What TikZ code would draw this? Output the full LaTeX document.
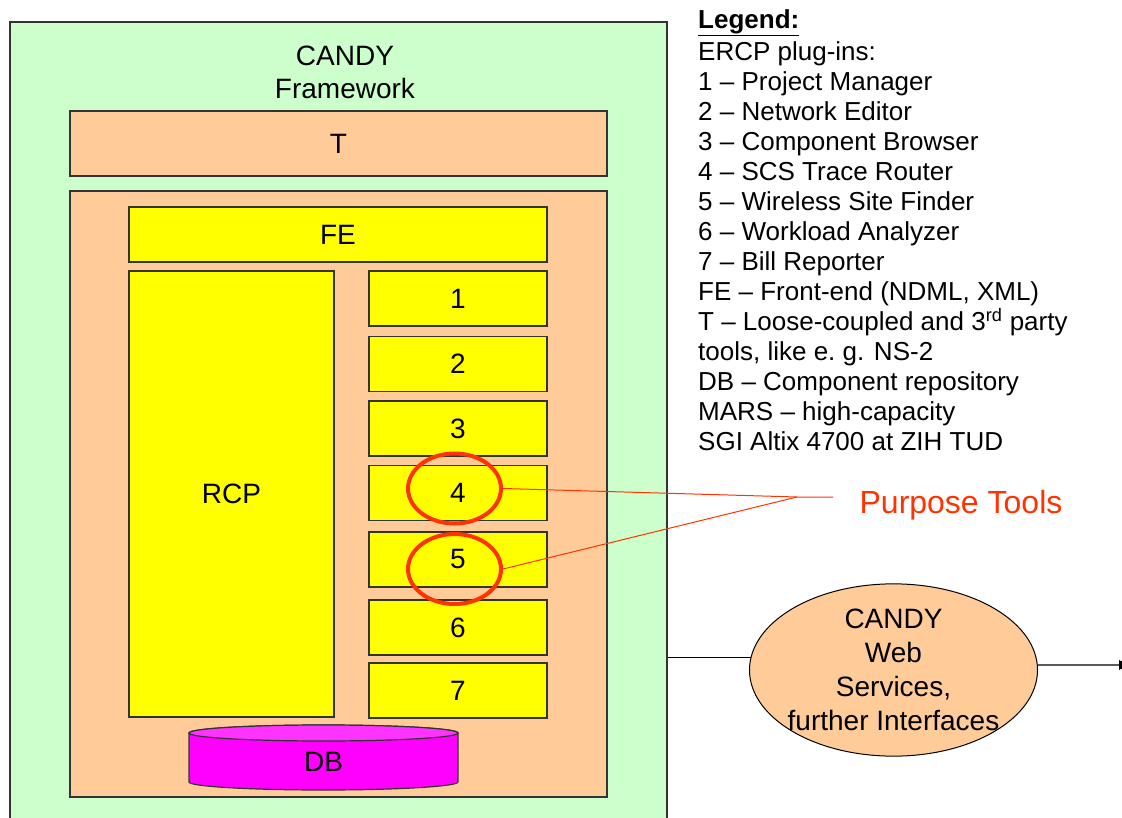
\documentclass[tikz,border=0pt]{standalone}
\usepackage{fontspec}
\setmainfont{Liberation Sans}
\usepackage{tikz}
\usetikzlibrary{shapes.geometric,arrows.meta}
\definecolor{framegreen}{HTML}{CCFFCC}
\definecolor{rcporange}{HTML}{FFCC99}
\definecolor{plugyellow}{HTML}{FFFF00}
\definecolor{dbbody}{HTML}{FF00FF}
\definecolor{dbtop}{HTML}{FF33FF}
\definecolor{markred}{HTML}{FF3300}

\begin{document}
\begin{tikzpicture}[x=1pt, y=-1pt, font=\fontsize{28}{33}\selectfont,
    block/.style={shape=rectangle, draw=black!80, line width=1.2pt, inner sep=0pt},
    plugin/.style={block, fill=plugyellow, minimum width=178pt, minimum height=55pt},
    ring/.style={shape=ellipse, draw=markred, line width=4pt, minimum width=93pt, minimum height=70pt},
    pointer/.style={draw=markred, line width=1pt}]
    \useasboundingbox (0,0) rectangle (1122,818);
    \node[block, fill=framegreen, minimum width=657pt, minimum height=820pt] at (338.5,432) (frame) {};
    \node[align=center] at (345,72) (title) {CANDY\\Framework};
    \node[block, fill=rcporange, minimum width=537pt, minimum height=65pt] at (338.5,143.5) (tools) {T};
    \node[block, fill=rcporange, minimum width=537pt, minimum height=606pt] at (338.5,494) (rcpbox) {};
    \node[block, fill=plugyellow, minimum width=418pt, minimum height=55pt] at (338,234.5) (fe) {FE};
    \node[block, fill=plugyellow, minimum width=205pt, minimum height=446pt] at (231.5,494) (rcp) {RCP};
    \foreach \n/\y in {1/298.5,2/364,3/428.5,4/493,5/559.5,6/627.5,7/690.5}
        \node[plugin] at (458,\y) (p\n) {\n};
    % repository drum
    \path[draw=black!80, line width=1.2pt, fill=dbbody] (189,733) -- (189,782)
        arc[start angle=180, end angle=360, x radius=134.5pt, y radius=8pt] -- (458,733)
        arc[start angle=0, end angle=180, x radius=134.5pt, y radius=8pt] -- cycle;
    \path[draw=black!80, line width=1.2pt, fill=dbtop] (323.5,733) ellipse[x radius=134.5pt, y radius=8pt];
    \node at (323.5,762) (db) {DB};
    \node[ring] at (454.5,488.5) (m4) {};
    \node[ring] at (454.5,569) (m5) {};
    \coordinate (hub) at (797,497);
    \coordinate (hubend) at (833,497);
    \path[pointer] (m4.east) -- (hub) -- (hubend);
    \path[pointer] (m5.east) -- (hub);
    \node[text=markred, font=\fontsize{32}{38}\selectfont] at (961,505) (purpose) {Purpose Tools};
    \node[shape=ellipse, draw=black, line width=1pt, fill=rcporange, align=center, inner xsep=-4pt, inner ysep=0pt,
        minimum width=287pt, minimum height=172pt, font=\fontsize{28}{34}\selectfont] at (893.5,670) (svc)
        {CANDY\\Web\\Services,\\further Interfaces};
    \coordinate (exit) at (1133,665);
    \path[draw, line width=1.2pt] (frame.east |- svc.175) -- (svc.175);
    \path[draw, line width=1.2pt, -{Latex[length=14pt, width=10pt]}] (svc.2) -- (exit);
    \node[anchor=north west, align=left, inner sep=0pt, font=\fontsize{26}{30}\selectfont] at (698,9) (legend)
        {\underline{\textbf{Legend:}}\\[2pt]
        ERCP plug-ins:\\
        1 -- Project Manager\\
        2 -- Network Editor\\
        3 -- Component Browser\\
        4 -- SCS Trace Router\\
        5 -- Wireless Site Finder\\
        6 -- Workload Analyzer\\
        7 -- Bill Reporter\\
        FE -- Front-end (NDML, XML)\\
        T -- Loose-coupled and 3\textsuperscript{rd} party\\
        tools, like e.\ g. NS-2\\
        DB -- Component repository\\
        MARS -- high-capacity\\
        SGI Altix 4700 at ZIH TUD};
\end{tikzpicture}
\end{document}
